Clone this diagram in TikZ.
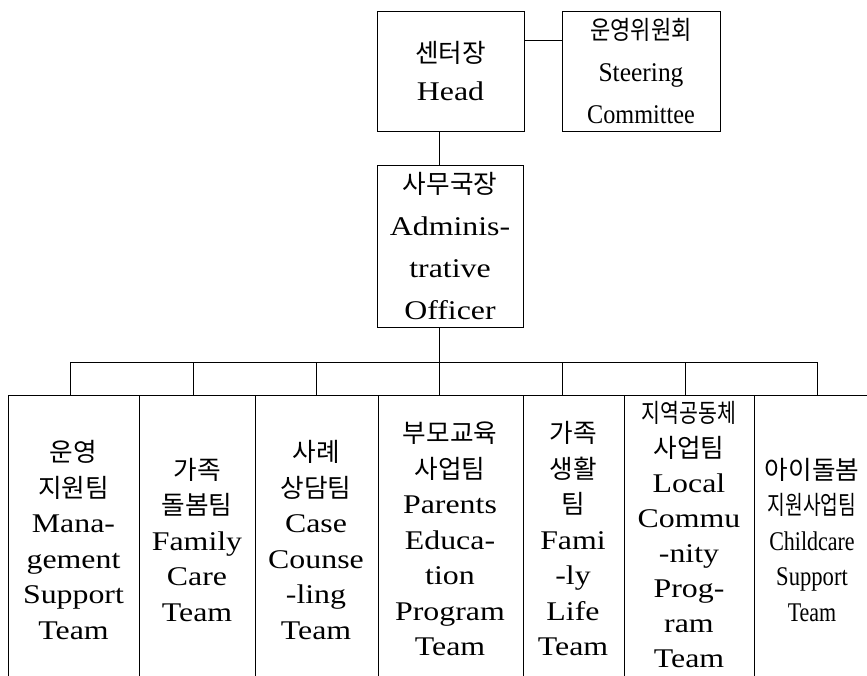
\documentclass[tikz,border=0pt]{standalone}
\usepackage{fontspec}
\setmainfont[FakeStretch=1.18]{Liberation Serif}
\newfontfamily\kr[Scale=0.95]{Noto Sans CJK KR}
\newcommand{\cx}[2]{\scalebox{#1}[1]{#2}}
\begin{document}
\begin{tikzpicture}[x=1pt,y=-1pt,
  ln/.style={line width=0.8pt},
  box/.style={draw, line width=0.8pt, inner sep=0pt, align=center},
  team/.style={inner sep=0pt, align=center, font=\fontsize{27}{35.5}\selectfont}]
\useasboundingbox (0,0) rectangle (867,676);
% top boxes
\node[box, minimum width=147pt, minimum height=120pt, font=\fontsize{27}{38}\selectfont] (head) at (450.5,71) {{\kr 센터장}\\Head};
\node[box, minimum width=158pt, minimum height=120pt, font=\fontsize{27}{42}\selectfont] (steer) at (641,71) {\cx{0.86}{\kr 운영위원회}\\\cx{0.8}{Steering}\\\cx{0.76}{Committee}};
\node[box, minimum width=146pt, minimum height=162pt, font=\fontsize{27}{42}\selectfont] (admin) at (450,246) {{\kr 사무국장}\\Adminis-\\trative\\Officer};
% connectors
\coordinate (sp) at (439,362);
\draw[ln] ([yshift=-30pt]head.north east) -- ([yshift=-30pt]steer.north west);
\draw[ln] (head.south -| sp) -- (admin.north -| sp);
\draw[ln] (admin.south -| sp) -- (sp);
% bus and drops
\foreach \i/\x in {1/70,2/193,3/316,4/439,5/562,6/685,7/817}{
  \coordinate (b\i) at (\x,362);
  \coordinate (t\i) at (\x,395);
}
\draw[ln] (b1) -- (b7);
\foreach \i in {1,...,7}{ \draw[ln] (b\i) -- (t\i); }
% team columns (open at bottom)
\draw[ln] (8,676) -- (8,395) -- (867,395);
\foreach \x in {139,255,378,523,624,754}{ \draw[ln] (\x,395) -- (\x,676); }
% team labels
\node[team] (team1) at (73.5,540) {{\kr 운영}\\{\kr 지원팀}\\Mana-\\gement\\Support\\Team};
\node[team] (team2) at (197,540) {{\kr 가족}\\{\kr 돌봄팀}\\Family\\Care\\Team};
\node[team] (team3) at (316,540) {{\kr 사례}\\{\kr 상담팀}\\Case\\Counse\\-ling\\Team};
\node[team] (team4) at (450,539) {{\kr 부모교육}\\{\kr 사업팀}\\Parents\\Educa-\\tion\\Program\\Team};
\node[team] (team5) at (573,539) {{\kr 가족}\\{\kr 생활}\\{\kr 팀}\\Fami\\-ly\\Life\\Team};
\node[team, font=\fontsize{27}{35}\selectfont] (team6) at (689,535) {\cx{0.8}{\kr 지역공동체}\\{\kr 사업팀}\\Local\\Commu\\-nity\\Prog-\\ram\\Team};
\node[team] (team7) at (812,540) {{\kr 아이돌봄}\\\cx{0.75}{\kr 지원사업팀}\\\cx{0.69}{Childcare}\\\cx{0.71}{Support}\\\cx{0.69}{Team}};
\end{tikzpicture}
\end{document}
